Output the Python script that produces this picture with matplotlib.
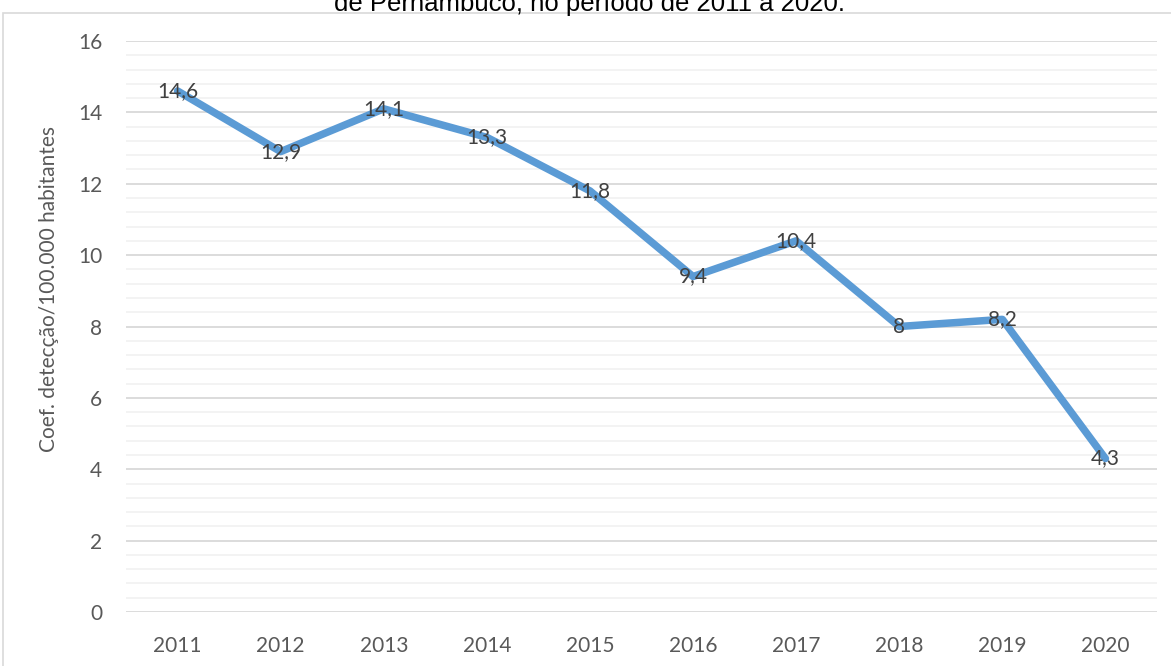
import matplotlib.pyplot as plt
from matplotlib.patches import Rectangle
from matplotlib.ticker import MultipleLocator

anos = ['2011', '2012', '2013', '2014', '2015', '2016', '2017', '2018', '2019', '2020']
coef = [14.6, 12.9, 14.1, 13.3, 11.8, 9.4, 10.4, 8.0, 8.2, 4.3]
rotulos = ['14,6', '12,9', '14,1', '13,3', '11,8', '9,4', '10,4', '8', '8,2', '4,3']
titulo = 'de Pernambuco, no período de 2011 a 2020.'
ylabel = 'Coef. detecção/100.000 habitantes'

cinza = '#595959'
azul = '#5B9BD5'

fig = plt.figure(figsize=(11.71, 6.66), dpi=100)
W, H = 1171, 666
ax = fig.add_axes([126 / W, 1 - 612 / H, (1157 - 126) / W, (612 - 41) / H])

# moldura do grafico (cortada na direita e embaixo)
fig.patches.append(Rectangle((3 / W, -0.1), 1.2, 1 - 12.5 / H + 0.1,
                             transform=fig.transFigure, fill=False,
                             edgecolor='#D9D9D9', lw=1.2))

x = list(range(len(anos)))
ax.plot(x, coef, color=azul, lw=5.4, solid_capstyle='round', solid_joinstyle='round', zorder=3)
for i, v in enumerate(coef):
    ax.text(i, v, rotulos[i], ha='center', va='center', fontsize=15,
            color='#404040', family='Lato', zorder=4)

ax.set_xlim(-0.5, len(anos) - 0.5)
ax.set_ylim(0, 16)
ax.set_xticks(x)
ax.set_xticklabels(anos)
ax.yaxis.set_major_locator(MultipleLocator(2))
ax.yaxis.set_minor_locator(MultipleLocator(0.4))
ax.grid(axis='y', which='major', color='#D9D9D9', lw=1.3, zorder=0)
ax.grid(axis='y', which='minor', color='#F2F2F2', lw=1.3, zorder=0)
ax.set_axisbelow(True)
for s in ax.spines.values():
    s.set_visible(False)
ax.tick_params(axis='both', which='both', length=0, colors=cinza, labelsize=15)
ax.tick_params(axis='x', pad=17)
ax.tick_params(axis='y', pad=17)
for lb in ax.get_xticklabels() + ax.get_yticklabels():
    lb.set_family('Lato')
ax.set_ylabel(ylabel, fontsize=15, color=cinza, family='Lato')
ax.yaxis.set_label_coords(-67 / (1157 - 126), 0.566)

fig.text(590 / W, 1 - 11 / H, titulo, ha='center', va='baseline', fontsize=18.5,
         family='Liberation Sans', color='#000000')

fig.savefig('out.png', dpi=100)
